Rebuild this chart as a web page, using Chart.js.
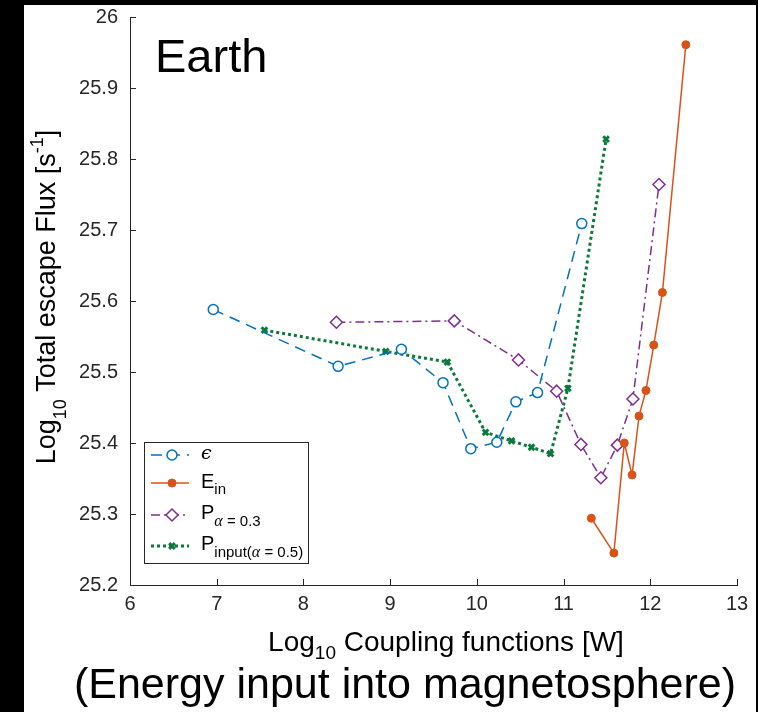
<!DOCTYPE html>
<html>
<head>
<meta charset="utf-8">
<script src="https://cdn.jsdelivr.net/npm/chart.js@4.4.0/dist/chart.umd.min.js"></script>
<style>
html,body{margin:0;padding:0;background:#000;width:758px;height:712px;overflow:hidden;}
#caja{position:absolute;left:24px;top:5px;width:732px;height:707px;background:#fff;}
</style>
</head>
<body>
<div id="caja"><canvas id="myChart" width="732" height="707"></canvas></div>
<script>
const xTicks=[6,7,8,9,10,11,12,13];
const xTickLabels=['6','7','8','9','10','11','12','13'];
const yTicks=[25.2,25.3,25.4,25.5,25.6,25.7,25.8,25.9,26];
const yTickLabels=['25.2','25.3','25.4','25.5','25.6','25.7','25.8','25.9','26'];

// epsilon
const epsX=[6.96,8.40,9.13,9.61,9.93,10.23,10.45,10.70,11.21];
const epsY=[25.588,25.508,25.532,25.485,25.392,25.401,25.458,25.471,25.709];
// E_in
const einX=[11.32,11.58,11.70,11.79,11.87,11.95,12.04,12.14,12.41];
const einY=[25.294,25.245,25.400,25.355,25.438,25.474,25.538,25.612,25.961];
// P alpha = 0.3
const pX=[8.38,9.74,10.48,10.92,11.20,11.43,11.62,11.80,12.10];
const pY=[25.570,25.572,25.517,25.473,25.398,25.351,25.397,25.462,25.764];
// P input(alpha = 0.5)
const piX=[7.55,8.95,9.66,10.10,10.40,10.63,10.85,11.05,11.49];
const piY=[25.559,25.529,25.514,25.415,25.403,25.394,25.385,25.477,25.828];

const FAM='"Liberation Sans", Helvetica, Arial, sans-serif';
const puntos=(xs,ys)=>xs.map((x,i)=>({x:x,y:ys[i]}));

const dibujarTexto=(ctx,partes,x,y,alinear)=>{
    let ancho=0;
    partes.forEach(p=>{ctx.font=p.f; ancho+=ctx.measureText(p.t).width;});
    let xi=alinear==='center'?x-ancho/2:x;
    ctx.textAlign='left';
    ctx.textBaseline='alphabetic';
    partes.forEach(p=>{
        ctx.font=p.f;
        ctx.fillText(p.t,xi,y+(p.dy||0));
        xi+=ctx.measureText(p.t).width;
    });
}

const leyendaTextos=[
    [{t:'\u03F5',f:'italic 19px "DejaVu Serif"'}],
    [{t:'E',f:'20px '+FAM},{t:'in',f:'15px '+FAM,dy:6}],
    [{t:'P',f:'20px '+FAM},{t:'\u03B1',f:'italic 16px "Liberation Serif"',dy:7},{t:' = 0.3',f:'15px '+FAM,dy:7}],
    [{t:'P',f:'20px '+FAM},{t:'input(',f:'15px '+FAM,dy:7},{t:'\u03B1',f:'italic 16px "Liberation Serif"',dy:7},{t:' = 0.5)',f:'15px '+FAM,dy:7}]
];

const extras={
    id:'extras',
    afterDraw(chart){
        const ctx=chart.ctx, ca=chart.chartArea, sx=chart.scales.x, sy=chart.scales.y;
        ctx.save();
        // marcas hacia adentro
        ctx.strokeStyle='#262626';
        ctx.lineWidth=1;
        ctx.setLineDash([]);
        ctx.beginPath();
        sx.ticks.forEach((t,i)=>{
            const px=Math.round(sx.getPixelForTick(i))+0.5;
            ctx.moveTo(px,ca.bottom); ctx.lineTo(px,ca.bottom-6);
        });
        sy.ticks.forEach((t,i)=>{
            const py=Math.round(sy.getPixelForTick(i))+0.5;
            ctx.moveTo(ca.left,py); ctx.lineTo(ca.left+6,py);
        });
        ctx.stroke();

        ctx.fillStyle='#000';
        dibujarTexto(ctx,[{t:'Earth',f:'47px '+FAM}],ca.left+25,ca.top+55,'left');

        // titulo eje x
        dibujarTexto(ctx,[
            {t:'Log',f:'28px '+FAM},
            {t:'10',f:'19px '+FAM,dy:8},
            {t:' Coupling functions [W]',f:'28px '+FAM}
        ],422,646,'center');
        dibujarTexto(ctx,[{t:'(Energy input into magnetosphere)',f:'43px '+FAM}],381,693,'center');

        // titulo eje y
        ctx.save();
        ctx.translate(31,(ca.top+ca.bottom)/2-4);
        ctx.rotate(-Math.PI/2);
        dibujarTexto(ctx,[
            {t:'Log',f:'27px '+FAM},
            {t:'10',f:'18px '+FAM,dy:11},
            {t:' Total escape Flux [s',f:'27px '+FAM},
            {t:'-1',f:'18px '+FAM,dy:-12},
            {t:']',f:'27px '+FAM}
        ],0,0,'center');
        ctx.restore();

        // leyenda
        const bx=ca.left+14, by=437, bw=164, bh=121;
        ctx.fillStyle='#fff';
        ctx.fillRect(bx,by,bw,bh);
        ctx.strokeStyle='#262626';
        ctx.lineWidth=1;
        ctx.strokeRect(bx+0.5,by+0.5,bw,bh);
        const lineasY=[13,41,73,104];
        const basesY=[17,46,77,108];
        chart.data.datasets.forEach((ds,i)=>{
            const ly=by+lineasY[i];
            ctx.save();
            ctx.strokeStyle=ds.borderColor;
            ctx.lineWidth=ds.borderWidth;
            ctx.setLineDash(ds.borderDash||[]);
            ctx.beginPath();
            ctx.moveTo(bx+7,ly); ctx.lineTo(bx+45,ly);
            ctx.stroke();
            ctx.setLineDash([]);
            ctx.fillStyle=ds.pointBackgroundColor;
            ctx.strokeStyle=ds.pointBorderColor;
            ctx.lineWidth=ds.pointBorderWidth;
            Chart.helpers.drawPoint(ctx,{pointStyle:ds.pointStyle,radius:ds.pointRadius,borderWidth:ds.pointBorderWidth,rotation:0},bx+28,ly);
            ctx.restore();
            ctx.fillStyle='#000';
            dibujarTexto(ctx,leyendaTextos[i],bx+57,by+basesY[i],'left');
        });
        ctx.restore();
    }
};

const ctx=document.getElementById('myChart');
const myChart=new Chart(ctx,{
    type:'scatter',
    data:{
        datasets:[
            {
                label:'epsilon',
                data:puntos(epsX,epsY),
                showLine:true,
                borderColor:'#0072BD',
                borderWidth:1.5,
                borderDash:[11,7],
                pointStyle:'circle',
                pointRadius:5,
                pointBorderWidth:1.5,
                pointBorderColor:'#0072BD',
                pointBackgroundColor:'#fff'
            },
            {
                label:'E_in',
                data:puntos(einX,einY),
                showLine:true,
                borderColor:'#D95319',
                borderWidth:1.5,
                borderDash:[],
                pointStyle:'circle',
                pointRadius:4,
                pointBorderWidth:1,
                pointBorderColor:'#D95319',
                pointBackgroundColor:'#D95319'
            },
            {
                label:'P_alpha',
                data:puntos(pX,pY),
                showLine:true,
                borderColor:'#7E2F8E',
                borderWidth:1.5,
                borderDash:[9,4,2,4],
                pointStyle:'rectRot',
                pointRadius:6,
                pointBorderWidth:1.5,
                pointBorderColor:'#7E2F8E',
                pointBackgroundColor:'#fff'
            },
            {
                label:'P_input',
                data:puntos(piX,piY),
                showLine:true,
                borderColor:'#0B7A3B',
                borderWidth:3,
                borderDash:[3,3],
                pointStyle:'crossRot',
                pointRadius:4,
                pointBorderWidth:3,
                pointBorderColor:'#0B7A3B',
                pointBackgroundColor:'#0B7A3B'
            }
        ]
    },
    options:{
        responsive:false,
        animation:false,
        devicePixelRatio:1,
        layout:{padding:{left:0,top:12,right:19,bottom:0}},
        plugins:{legend:{display:false},tooltip:{enabled:false}},
        scales:{
            x:{
                type:'linear',
                min:6,
                max:13,
                afterBuildTicks:s=>{s.ticks=xTicks.map(v=>({value:v}));},
                afterFit:s=>{s.height=127; s.paddingLeft=0; s.paddingRight=0;},
                ticks:{
                    autoSkip:false,
                    maxRotation:0,
                    padding:7,
                    color:'#262626',
                    font:{family:FAM,size:20},
                    callback:(v,i)=>xTickLabels[i]
                },
                grid:{display:false,drawTicks:false},
                border:{display:true,color:'#262626',width:1}
            },
            y:{
                type:'linear',
                min:25.2,
                max:26,
                afterBuildTicks:s=>{s.ticks=yTicks.map(v=>({value:v}));},
                afterFit:s=>{s.width=106; s.paddingTop=0; s.paddingBottom=0;},
                ticks:{
                    autoSkip:false,
                    padding:12,
                    color:'#262626',
                    font:{family:FAM,size:20},
                    callback:(v,i)=>yTickLabels[i]
                },
                grid:{display:false,drawTicks:false},
                border:{display:true,color:'#262626',width:1}
            }
        }
    },
    plugins:[extras]
});
</script>
</body>
</html>
